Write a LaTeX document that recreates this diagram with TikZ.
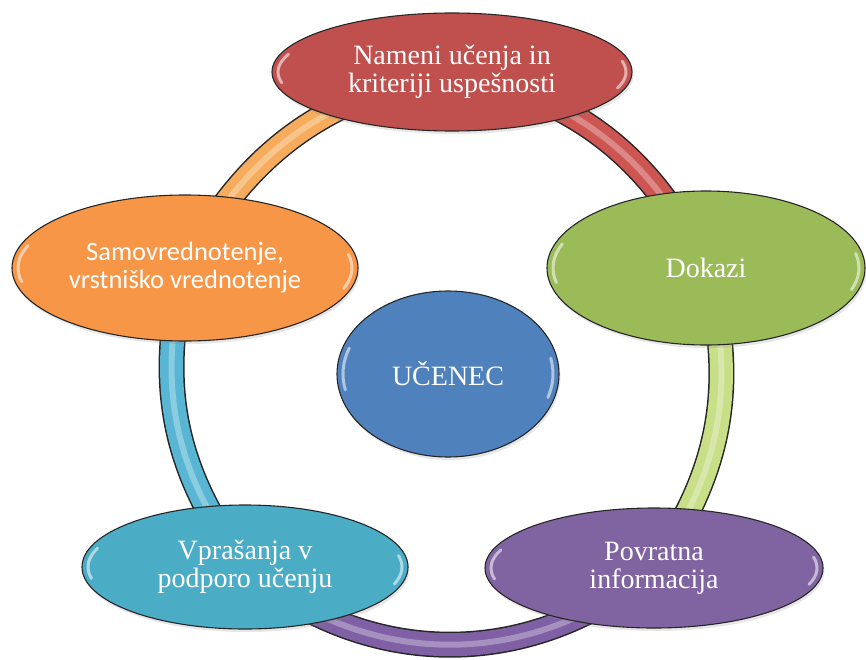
\documentclass[tikz,border=0pt]{standalone}
\usepackage{fontspec}
\setmainfont{Liberation Serif}
\newfontfamily\calibri{Carlito}
\usetikzlibrary{positioning, shapes.geometric, backgrounds, shadows}
\definecolor{cred}{RGB}{192,80,77}
\definecolor{cgreen}{RGB}{155,187,89}
\definecolor{cpurple}{RGB}{128,100,162}
\definecolor{ccyan}{RGB}{75,172,198}
\definecolor{corange}{RGB}{247,150,70}
\definecolor{cblue}{RGB}{79,129,189}
\definecolor{tred}{RGB}{205,85,82}
\definecolor{tgreen}{RGB}{200,222,135}
\definecolor{tpurple}{RGB}{128,96,165}
\definecolor{tcyan}{RGB}{88,182,212}
\definecolor{torange}{RGB}{246,172,92}

\tikzset{
  bubble/.style n args={3}{ellipse, draw=black!85, line width=1.1pt, fill=#1,
    minimum width=#2pt, minimum height=#3pt, inner sep=0pt, text=white, align=center,
    drop shadow={opacity=.2, shadow xshift=1.5pt, shadow yshift=-3pt},
    path picture={
      \draw[white, opacity=.55, line width=3pt, line cap=round]
        ([shift={(160:0.5*#2-6 and 0.5*#3-7)}]path picture bounding box.center)
        arc[start angle=160, end angle=192, x radius=0.5*#2-6, y radius=0.5*#3-7];
      \draw[white, opacity=.55, line width=3pt, line cap=round]
        ([shift={(-18:0.5*#2-6 and 0.5*#3-7)}]path picture bounding box.center)
        arc[start angle=-18, end angle=12, x radius=0.5*#2-6, y radius=0.5*#3-7];
    }},
  tube/.style={line width=26pt, draw=black!85,
    postaction={draw=#1, line width=23pt},
    postaction={draw=white, opacity=.3, line width=6pt}},
}

\begin{document}
\begin{tikzpicture}[x=1pt, y=1pt, every node/.style={font=\fontsize{28}{28}\selectfont}]
  \useasboundingbox (-448,-292) rectangle (418,367);

  \node[bubble={cred}{360}{118}] (goal) at (4,295) {Nameni učenja in\\kriteriji uspešnosti};
  \node[bubble={cgreen}{318}{154}] (proof) at (258,99) {Dokazi};
  \node[bubble={cpurple}{338}{120}] (feedback) at (206,-201) {Povratna\\informacija};
  \node[bubble={ccyan}{326}{124}] (quest) at (-203,-200) {Vprašanja v\\podporo učenju};
  \node[bubble={corange}{346}{146}, font=\calibri\fontsize{26.5}{28}\selectfont] (self) at (-263,99)
    {Samovrednotenje,\\vrstniško vrednotenje};
  \node[bubble={cblue}{222}{166}] (pupil) at (0,-7) {UČENEC};

  % ring segments behind the bubbles
  \begin{scope}[on background layer]
    \draw[tube=tred] (goal.center) to[bend left=26] (proof.center);
    \draw[tube=tgreen] (proof.center) to[bend left=25] (feedback.center);
    \draw[tube=tpurple] (feedback.center) to[bend left=40] (quest.center);
    \draw[tube=tcyan] (quest.center) to[bend left=25.5] (self.center);
    \draw[tube=torange] (self.center) to[bend left=26] (goal.center);
  \end{scope}
\end{tikzpicture}
\end{document}
